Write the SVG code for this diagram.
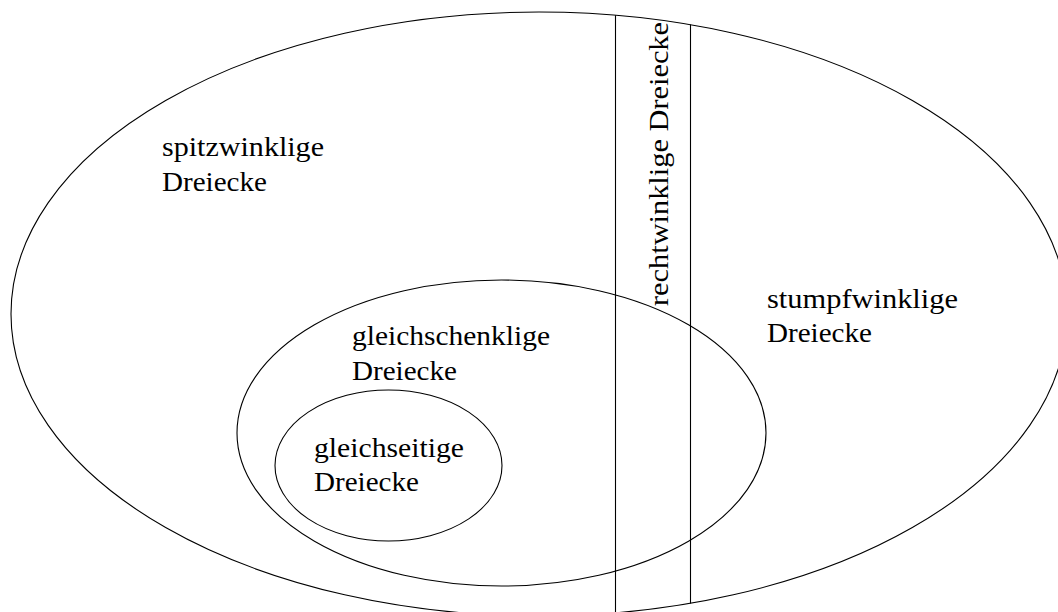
<svg xmlns="http://www.w3.org/2000/svg" width="1058" height="612" viewBox="0 0 1058 612">
<style>
.shape{fill:none;stroke:#000;stroke-width:1.1}
</style>
<rect width="1058" height="612" fill="#fff"/>
<g font-family="Liberation Serif, DejaVu Serif, serif" font-size="27" fill="#000">
<g id="spitzwinklige">
<ellipse class="shape" cx="539" cy="314" rx="528" ry="302"/>
<text x="162" y="156" textLength="162" lengthAdjust="spacingAndGlyphs">spitzwinklige</text>
<text x="162" y="191" textLength="105" lengthAdjust="spacingAndGlyphs">Dreiecke</text>
</g>
<g id="rechtwinklige">
<line class="shape" x1="615.5" y1="15.2" x2="615.5" y2="612.8"/>
<line class="shape" x1="690.5" y1="24.6" x2="690.5" y2="603.4"/>
<text transform="translate(668,306) rotate(-90)" x="0" y="0" textLength="284" lengthAdjust="spacingAndGlyphs">rechtwinklige Dreiecke</text>
</g>
<g id="stumpfwinklige">
<text x="767" y="308" textLength="191" lengthAdjust="spacingAndGlyphs">stumpfwinklige</text>
<text x="767" y="342" textLength="105" lengthAdjust="spacingAndGlyphs">Dreiecke</text>
</g>
<g id="gleichschenklige">
<ellipse class="shape" cx="501.5" cy="433" rx="264.5" ry="153"/>
<text x="352" y="345" textLength="198" lengthAdjust="spacingAndGlyphs">gleichschenklige</text>
<text x="352" y="380" textLength="105" lengthAdjust="spacingAndGlyphs">Dreiecke</text>
</g>
<g id="gleichseitige">
<ellipse class="shape" cx="388.5" cy="465.5" rx="113.5" ry="75.5"/>
<text x="314" y="457" textLength="150" lengthAdjust="spacingAndGlyphs">gleichseitige</text>
<text x="314" y="491" textLength="105" lengthAdjust="spacingAndGlyphs">Dreiecke</text>
</g>
</g>
</svg>
